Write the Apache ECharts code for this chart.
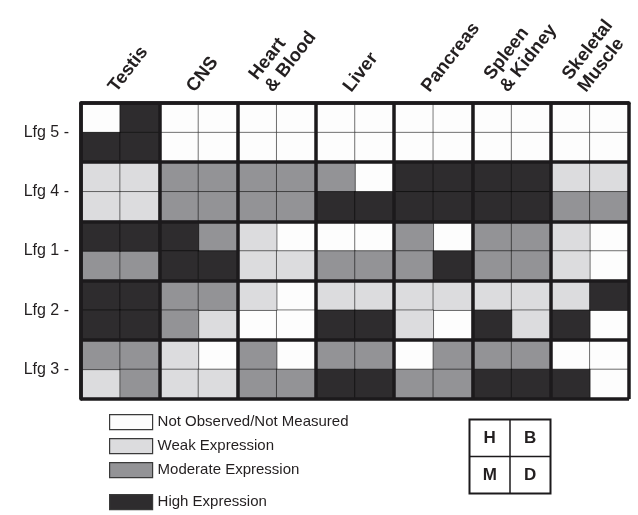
<!DOCTYPE html>
<html><head><meta charset="utf-8">
<script src="https://cdn.jsdelivr.net/npm/echarts@6/dist/echarts.min.js"></script>
<style>html,body{margin:0;padding:0;background:#fff}#c{width:638px;height:515px}</style>
</head><body><div id="c"></div>
<script>
// ---- data ----
const tissues = ['Testis', 'CNS', 'Heart\n& Blood', 'Liver', 'Pancreas', 'Spleen\n& Kidney', 'Skeletal\nMuscle'];
const genes = ['Lfg 5', 'Lfg 4', 'Lfg 1', 'Lfg 2', 'Lfg 3'];
const levels = ['Not Observed/Not Measured', 'Weak Expression', 'Moderate Expression', 'High Expression'];
const keyLetters = ['H', 'B', 'M', 'D'];
// 0 = not observed, 1 = weak, 2 = moderate, 3 = high
// top row per tissue: [H, B]; bottom row per tissue: [M, D]
const lfg5Top    = [0,3, 0,0, 0,0, 0,0, 0,0, 0,0, 0,0];
const lfg5Bottom = [3,3, 0,0, 0,0, 0,0, 0,0, 0,0, 0,0];
const lfg4Top    = [1,1, 2,2, 2,2, 2,0, 3,3, 3,3, 1,1];
const lfg4Bottom = [1,1, 2,2, 2,2, 3,3, 3,3, 3,3, 2,2];
const lfg1Top    = [3,3, 3,2, 1,0, 0,0, 2,0, 2,2, 1,0];
const lfg1Bottom = [2,2, 3,3, 1,1, 2,2, 2,3, 2,2, 1,0];
const lfg2Top    = [3,3, 2,2, 1,0, 1,1, 1,1, 1,1, 1,3];
const lfg2Bottom = [3,3, 2,1, 0,0, 3,3, 1,0, 3,1, 3,0];
const lfg3Top    = [2,2, 1,0, 2,0, 2,2, 0,2, 2,2, 0,0];
const lfg3Bottom = [1,2, 1,1, 2,2, 3,3, 2,2, 3,3, 3,0];
const geneRows = [[lfg5Top, lfg5Bottom], [lfg4Top, lfg4Bottom], [lfg1Top, lfg1Bottom], [lfg2Top, lfg2Bottom], [lfg3Top, lfg3Bottom]];

// ---- styles ----
const levelColors = ['#fdfdfd', '#dcdcde', '#939396', '#2e2c2e'];
const ink = '#231f20';
const font = 'Liberation Sans, Arial, sans-serif';

const subCols = [];
tissues.forEach(t => { subCols.push(t + ' 1'); subCols.push(t + ' 2'); });
const subRows = [];
genes.forEach(g => { subRows.push(g + ' a'); subRows.push(g + ' b'); });

const seriesData = levels.map(() => []);
geneRows.forEach((pair, gi) => {
  pair.forEach((row, r) => {
    row.forEach((v, c) => { seriesData[v].push([c, gi * 2 + r, v]); });
  });
});

const G = {left: 81, top: 103, right: 9, bottom: 116, outerBoundsMode: 'none', containLabel: false};
const thick = {color: '#1c1a1c', width: 3.5};

const chart = echarts.init(document.getElementById('c'), null, {renderer: 'canvas'});
chart.setOption({
  animation: false,
  backgroundColor: '#fff',
  grid: [
    Object.assign({}, G),
    Object.assign({}, G, {left: G.left, right: G.right})
  ],
  xAxis: [
    {type: 'category', gridIndex: 0, data: subCols, show: false},
    {type: 'category', gridIndex: 0, data: tissues, position: 'top', z: 10,
     axisLine: {show: true, lineStyle: thick}, axisTick: {show: false}, axisLabel: {show: false},
     splitLine: {show: true, lineStyle: thick}},
    {type: 'category', gridIndex: 1, data: tissues, position: 'top',
     axisLine: {show: false}, axisTick: {show: false}, splitLine: {show: false},
     axisLabel: {show: true, interval: 0, rotate: -52, margin: 7, verticalAlign: 'bottom',
       fontFamily: font, fontWeight: 'bold', fontSize: 18.5, color: ink, lineHeight: 20}}
  ],
  yAxis: [
    {type: 'category', gridIndex: 0, data: subRows, inverse: true, show: false},
    {type: 'category', gridIndex: 0, data: genes, inverse: true, z: 10, position: 'left',
     axisLine: {show: true, lineStyle: thick}, axisTick: {show: false},
     splitLine: {show: true, lineStyle: thick},
     axisLabel: {show: true, margin: 12, fontFamily: font, fontSize: 16, color: ink,
       formatter: v => v + ' -'}},
    {type: 'category', gridIndex: 1, data: genes, show: false}
  ],
  legend: levels.map((name, i) => ({
    data: [name], orient: 'vertical', left: 104, top: [409, 433, 457, 489][i],
    icon: 'rect', itemWidth: 43, itemHeight: 15, itemGap: 0, selectedMode: false,
    itemStyle: {borderColor: '#3a3a3a', borderWidth: 1.2},
    textStyle: {fontFamily: font, fontSize: 15, color: ink}
  })),
  series: levels.map((name, i) => ({
    type: 'heatmap', name: name, xAxisIndex: 0, yAxisIndex: 0,
    data: seriesData[i],
    itemStyle: {color: levelColors[i], borderColor: 'rgba(0,0,0,0.5)', borderWidth: 1},
    emphasis: {disabled: true}, silent: true
  })),
  graphic: [{
    type: 'group', left: 467, top: 417,
    children: [
      {type: 'rect', shape: {x: 0, y: 0, width: 81, height: 74}, style: {fill: '#fff', stroke: '#1c1a1c', lineWidth: 2}},
      {type: 'line', shape: {x1: 40.5, y1: 0, x2: 40.5, y2: 74}, style: {stroke: '#1c1a1c', lineWidth: 1.5}},
      {type: 'line', shape: {x1: 0, y1: 37, x2: 81, y2: 37}, style: {stroke: '#1c1a1c', lineWidth: 1.5}},
      ...keyLetters.map((t, k) => ({type: 'text', x: 20.25 + 40.5 * (k % 2), y: 18.5 + 37 * Math.floor(k / 2),
        style: {text: t, fill: ink, font: 'bold 17px ' + font, align: 'center', verticalAlign: 'middle'}}))
    ]
  }]
});
</script></body></html>
